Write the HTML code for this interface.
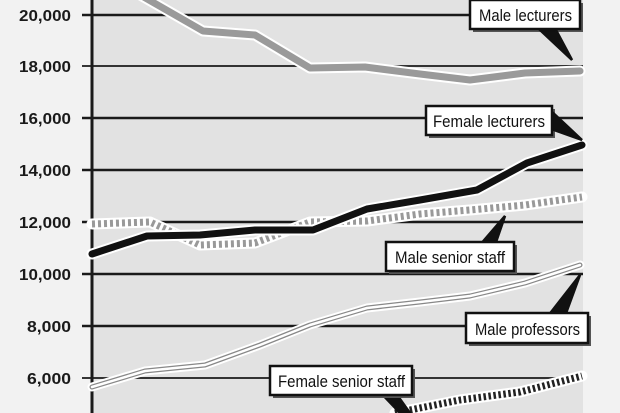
<!DOCTYPE html>
<html><head><meta charset="utf-8"><style>
html,body{margin:0;padding:0;background:#f2f2f2;}
svg{display:block;}
text{font-family:"Liberation Sans",sans-serif;}
</style></head><body>
<svg width="620" height="413" viewBox="0 0 620 413">
<rect x="0" y="0" width="620" height="413" fill="#f2f2f2"/>
<rect x="92" y="0" width="491" height="413" fill="#e2e2e2"/>
<g stroke="#1a1a1a" stroke-width="2.5">
<line x1="82" y1="15" x2="583" y2="15"/>
<line x1="82" y1="66" x2="583" y2="66" stroke-width="1.8"/>
<line x1="82" y1="118" x2="583" y2="118"/>
<line x1="82" y1="170" x2="583" y2="170"/>
<line x1="82" y1="222" x2="583" y2="222"/>
<line x1="82" y1="274" x2="583" y2="274"/>
<line x1="82" y1="326" x2="583" y2="326"/>
<line x1="82" y1="378" x2="583" y2="378" stroke-width="1.8"/>
<line x1="92" y1="0" x2="92" y2="413" stroke-width="3"/>
</g>
<g font-size="16" font-weight="bold" fill="#1a1a1a" text-anchor="end">
<text x="71" y="21" textLength="52" lengthAdjust="spacingAndGlyphs">20,000</text>
<text x="71" y="72" textLength="52" lengthAdjust="spacingAndGlyphs">18,000</text>
<text x="71" y="124" textLength="52" lengthAdjust="spacingAndGlyphs">16,000</text>
<text x="71" y="176" textLength="52" lengthAdjust="spacingAndGlyphs">14,000</text>
<text x="71" y="228" textLength="52" lengthAdjust="spacingAndGlyphs">12,000</text>
<text x="71" y="280" textLength="52" lengthAdjust="spacingAndGlyphs">10,000</text>
<text x="71" y="332" textLength="44" lengthAdjust="spacingAndGlyphs">8,000</text>
<text x="71" y="384" textLength="44" lengthAdjust="spacingAndGlyphs">6,000</text>
</g>
<g fill="none" stroke-linejoin="round" stroke-linecap="round">
<polyline points="135,-8 203,31 255,35 310,68 365,67 420,74 470,80 525,73 580,71" stroke="#fff" stroke-width="11"/>
<polyline points="135,-8 203,31 255,35 310,68 365,67 420,74 470,80 525,73 580,71" stroke="#9a9a9a" stroke-width="7"/>
<polyline points="92,224 150,222 200,245 255,243 310,222 367,221 420,214 470,210 525,205 582,197" stroke="#fff" stroke-width="11"/>
<polyline points="92,224 150,222 200,245 255,243 310,222 367,221 420,214 470,210 525,205 582,197" stroke="#999" stroke-width="7" stroke-dasharray="3,3" stroke-linecap="butt"/>
<polyline points="92,254 147,236 200,235 255,230 313,230 367,209 420,200 477,190 527,163 582,145" stroke="#fff" stroke-width="11"/>
<polyline points="92,254 147,236 200,235 255,230 313,230 367,209 420,200 477,190 527,163 582,145" stroke="#111" stroke-width="7"/>
<polyline points="92,387 145,371 205,365 260,345 310,325 367,308 420,302 470,296 525,283 580,265" stroke="#fff" stroke-width="9"/>
<polyline points="92,387 145,371 205,365 260,345 310,325 367,308 420,302 470,296 525,283 580,265" stroke="#888" stroke-width="5"/>
<polyline points="92,387 145,371 205,365 260,345 310,325 367,308 420,302 470,296 525,283 580,265" stroke="#fff" stroke-width="2.5"/>
<polyline points="395,413 460,400 520,392 582,376" stroke="#fff" stroke-width="11"/>
<polyline points="395,413 460,400 520,392 582,376" stroke="#222" stroke-width="7" stroke-dasharray="2.5,2.5" stroke-linecap="butt"/>
</g>
<g stroke="#111" stroke-width="2.5" stroke-linejoin="miter">
<rect x="473" y="3" width="110" height="29" fill="#555" stroke="none"/>
<polygon points="540,30 572,60 556,30" fill="#111"/>
<rect x="470" y="0" width="110" height="29" fill="#fff"/>
<rect x="429" y="109" width="126" height="29" fill="#555" stroke="none"/>
<polygon points="540,125 582,140 550,110" fill="#111"/>
<rect x="426" y="106" width="126" height="29" fill="#fff"/>
<rect x="389" y="245" width="128" height="29" fill="#555" stroke="none"/>
<polygon points="480,245 505,216 495,245" fill="#111"/>
<rect x="386" y="242" width="128" height="29" fill="#fff"/>
<rect x="469" y="316" width="122" height="30" fill="#555" stroke="none"/>
<polygon points="548,316 580,275 565,316" fill="#111"/>
<rect x="466" y="313" width="122" height="30" fill="#fff"/>
<polygon points="380,392 400,413 410,413 395,392" fill="#111"/>
<rect x="273" y="369" width="142" height="29" fill="#555" stroke="none"/>
<rect x="270" y="366" width="142" height="29" fill="#fff"/>
</g>
<g font-size="17" fill="#111">
<text x="479" y="21" textLength="93" lengthAdjust="spacingAndGlyphs">Male lecturers</text>
<text x="433" y="127" textLength="112" lengthAdjust="spacingAndGlyphs">Female lecturers</text>
<text x="395" y="263" textLength="110" lengthAdjust="spacingAndGlyphs">Male senior staff</text>
<text x="475" y="335" textLength="105" lengthAdjust="spacingAndGlyphs">Male professors</text>
<text x="278" y="387" textLength="127" lengthAdjust="spacingAndGlyphs">Female senior staff</text>
</g>
</svg>
</body></html>
